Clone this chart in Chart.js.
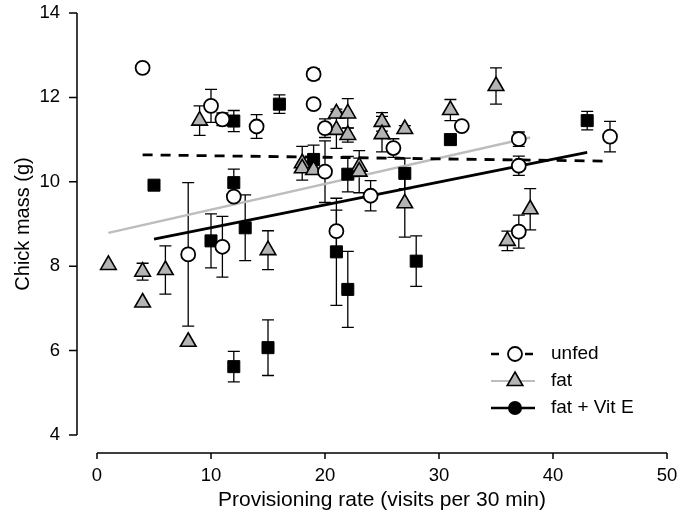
<!DOCTYPE html>
<html>
<head>
<meta charset="utf-8">
<script src="https://cdn.jsdelivr.net/npm/chart.js@4.4.0/dist/chart.umd.min.js"></script>
<style>
  body { margin: 0; background: #fff; }
</style>
</head>
<body>
<canvas id="chart" width="685" height="517"></canvas>
<script>
// unfed (open circles): provisioning rate, chick mass, error (+/-)
const unfedX   = [4, 10, 11, 14, 19, 19, 20, 26, 32, 37, 45, 12, 8, 11, 20, 24, 21, 37, 37]
const unfedY   = [12.70, 11.80, 11.48, 11.31, 12.55, 11.84, 11.27, 10.80, 11.32, 11.01, 11.07, 9.65, 8.28, 8.46, 10.24, 9.67, 8.83, 10.38, 8.82]
const unfedErr = [0, 0.39, 0.15, 0.28, 0.13, 0, 0.22, 0.22, 0, 0.17, 0.36, 0, 1.70, 0.72, 0.73, 0.36, 0.5, 0.23, 0.39]

// fat (grey triangles)
const fatX   = [1, 4, 4, 6, 8, 9, 15, 18, 18, 19, 21, 22, 21, 22, 23, 23, 25, 25, 27, 27, 31, 35, 36, 38]
const fatY   = [8.03, 7.87, 7.14, 7.91, 6.21, 11.45, 8.38, 10.44, 10.32, 10.28, 11.62, 11.62, 11.23, 11.11, 10.36, 10.24, 11.42, 11.13, 11.25, 9.49, 11.70, 12.27, 8.60, 9.35]
const fatErr = [0, 0.2, 0, 0.57, 0, 0.35, 0.46, 0.4, 0, 0, 0.1, 0.35, 0.44, 0.17, 0.2, 0.5, 0.22, 0.42, 0.08, 0.8, 0.25, 0.43, 0.23, 0.49]

// fat + Vit E (black squares)
const vitX   = [5, 10, 12, 12, 12, 13, 15, 16, 19, 21, 22, 22, 27, 28, 31, 43]
const vitY   = [9.92, 8.60, 11.44, 9.98, 5.62, 8.91, 6.07, 11.84, 10.53, 8.34, 10.18, 7.45, 10.20, 8.12, 11.00, 11.45]
const vitErr = [0, 0.64, 0.25, 0.32, 0.36, 0.78, 0.66, 0.22, 0.34, 1.27, 0.42, 0.9, 0.36, 0.6, 0.1, 0.22]

// regression lines (start and end)
const unfedLineX = [4, 44.5]
const unfedLineY = [10.64, 10.49]
const fatLineX = [1, 38]
const fatLineY = [8.79, 11.05]
const vitLineX = [5, 43]
const vitLineY = [8.64, 10.70]

const xTicks = [0, 10, 20, 30, 40, 50]
const yTicks = [4, 6, 8, 10, 12, 14]

const family = "'Liberation Sans', Arial, Helvetica, sans-serif"
const grey = '#b4b4b4'
const lineGrey = '#bdbdbd'

function pts(xs, ys) {
  return xs.map(function(x, i) { return {x: x, y: ys[i]} })
}

// error bars, drawn under the markers
const errorBars = {
  id: 'errorBars',
  beforeDatasetsDraw(chart) {
    const ctx = chart.ctx
    const xs = chart.scales.x, ys = chart.scales.y
    ctx.save()
    ctx.strokeStyle = '#000'
    ctx.lineWidth = 1.3
    chart.data.datasets.forEach(function(ds) {
      if (!ds.err) return
      ds.data.forEach(function(p, i) {
        const e = ds.err[i]
        if (!e) return
        const px = xs.getPixelForValue(p.x)
        const top = ys.getPixelForValue(p.y + e)
        const bot = ys.getPixelForValue(p.y - e)
        ctx.beginPath()
        ctx.moveTo(px, top); ctx.lineTo(px, bot)
        ctx.moveTo(px - 6, top); ctx.lineTo(px + 6, top)
        ctx.moveTo(px - 6, bot); ctx.lineTo(px + 6, bot)
        ctx.stroke()
      })
    })
    ctx.restore()
  }
}

// detached R-style axes
const axes = {
  id: 'axes',
  afterDraw(chart) {
    const ctx = chart.ctx
    const xs = chart.scales.x, ys = chart.scales.y
    const ax = chart.chartArea.left - 20
    const ay = chart.chartArea.bottom + 18
    ctx.save()
    ctx.strokeStyle = '#000'
    ctx.lineWidth = 1.5
    ctx.beginPath()
    ctx.moveTo(ax, ys.getPixelForValue(4)); ctx.lineTo(ax, ys.getPixelForValue(14))
    yTicks.forEach(function(t) {
      const py = ys.getPixelForValue(t)
      ctx.moveTo(ax, py); ctx.lineTo(ax - 8, py)
    })
    ctx.moveTo(xs.getPixelForValue(0), ay); ctx.lineTo(xs.getPixelForValue(50), ay)
    xTicks.forEach(function(t) {
      const px = xs.getPixelForValue(t)
      ctx.moveTo(px, ay); ctx.lineTo(px, ay + 6)
    })
    ctx.stroke()
    ctx.restore()
  }
}

// legend in the lower right corner
const legendBox = {
  id: 'legendBox',
  afterDraw(chart) {
    const ctx = chart.ctx
    const x0 = 491, x1 = 535, mx = 515, tx = 551
    const rows = [354, 381, 408]
    ctx.save()
    ctx.lineWidth = 2.5
    ctx.strokeStyle = '#000'
    ctx.setLineDash([8, 9])
    ctx.beginPath(); ctx.moveTo(x0, rows[0]); ctx.lineTo(x1, rows[0]); ctx.stroke()
    ctx.setLineDash([])
    ctx.lineWidth = 1.8
    ctx.fillStyle = '#fff'
    ctx.beginPath(); ctx.arc(mx, rows[0], 7, 0, Math.PI * 2); ctx.fill(); ctx.stroke()

    ctx.strokeStyle = lineGrey
    ctx.lineWidth = 2.2
    ctx.beginPath(); ctx.moveTo(x0, rows[1]); ctx.lineTo(x1, rows[1]); ctx.stroke()
    ctx.strokeStyle = '#000'
    ctx.lineWidth = 1.6
    ctx.fillStyle = grey
    ctx.beginPath()
    ctx.moveTo(mx, rows[1] - 9)
    ctx.lineTo(mx + 7.8, rows[1] + 4.5)
    ctx.lineTo(mx - 7.8, rows[1] + 4.5)
    ctx.closePath(); ctx.fill(); ctx.stroke()

    ctx.lineWidth = 2.5
    ctx.beginPath(); ctx.moveTo(x0, rows[2]); ctx.lineTo(x1, rows[2]); ctx.stroke()
    ctx.fillStyle = '#000'
    ctx.beginPath(); ctx.arc(mx, rows[2], 7, 0, Math.PI * 2); ctx.fill()

    ctx.font = '19px ' + family
    ctx.textBaseline = 'middle'
    ctx.fillStyle = '#000'
    ctx.fillText('unfed', tx, rows[0])
    ctx.fillText('fat', tx, rows[1])
    ctx.fillText('fat + Vit E', tx, rows[2])
    ctx.restore()
  }
}

new Chart('chart', {
  type: 'scatter',
  data: {
    datasets: [
      {
        label: 'unfed', data: pts(unfedX, unfedY), err: unfedErr, order: 0,
        pointStyle: 'circle', pointRadius: 7, pointBackgroundColor: '#fff',
        pointBorderColor: '#000', pointBorderWidth: 1.8
      },
      {
        label: 'fat', data: pts(fatX, fatY), err: fatErr, order: 1,
        pointStyle: 'triangle', pointRadius: 9, pointBackgroundColor: grey,
        pointBorderColor: '#000', pointBorderWidth: 1.6
      },
      {
        label: 'fat + Vit E', data: pts(vitX, vitY), err: vitErr, order: 2,
        pointStyle: 'rect', pointRadius: 8.5, pointBackgroundColor: '#000',
        pointBorderColor: '#000', pointBorderWidth: 1
      },
      {
        type: 'line', label: 'unfed fit', data: pts(unfedLineX, unfedLineY), order: 5,
        borderColor: '#000', borderWidth: 2.8, borderDash: [10, 8], pointRadius: 0, fill: false
      },
      {
        type: 'line', label: 'fat fit', data: pts(fatLineX, fatLineY), order: 5,
        borderColor: lineGrey, borderWidth: 2.5, pointRadius: 0, fill: false
      },
      {
        type: 'line', label: 'fat + Vit E fit', data: pts(vitLineX, vitLineY), order: 5,
        borderColor: '#000', borderWidth: 2.8, pointRadius: 0, fill: false
      }
    ]
  },
  options: {
    responsive: false,
    animation: false,
    layout: { padding: { top: 13, right: 18, bottom: 0, left: 0 } },
    plugins: {
      legend: { display: false },
      tooltip: { enabled: false }
    },
    scales: {
      x: {
        type: 'linear', min: 0, max: 50,
        grid: { display: false, drawTicks: false },
        border: { display: false },
        ticks: { stepSize: 10, padding: 30, color: '#000', maxRotation: 0, font: { size: 18.5, family: family } },
        title: {
          display: true, text: 'Provisioning rate (visits per 30 min)', color: '#000',
          font: { size: 21, family: family }, padding: { top: 0, bottom: 4 }
        },
        afterFit: function(scale) {
          scale.height = 82
          scale.paddingLeft = 0
          scale.paddingRight = 0
        }
      },
      y: {
        type: 'linear', min: 4, max: 14,
        grid: { display: false, drawTicks: false },
        border: { display: false },
        ticks: { stepSize: 2, padding: 37, color: '#000', font: { size: 18.5, family: family } },
        title: {
          display: true, text: 'Chick mass (g)', color: '#000',
          font: { size: 20, family: family }, padding: { top: 11, bottom: 0 }
        },
        afterFit: function(scale) {
          scale.width = 97
          scale.paddingTop = 0
          scale.paddingBottom = 0
        }
      }
    }
  },
  plugins: [errorBars, axes, legendBox]
})
</script>
</body>
</html>
